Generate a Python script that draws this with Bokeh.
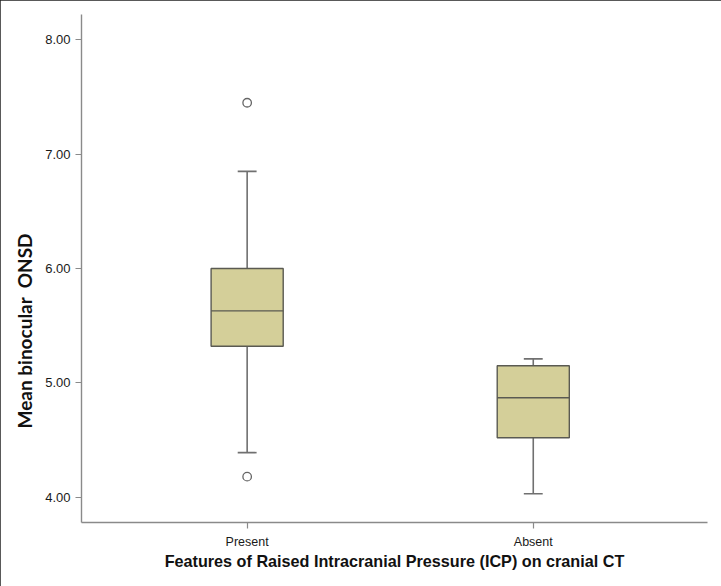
from bokeh.plotting import figure
from bokeh.models import Range1d, FixedTicker, Title, ColumnDataSource
from bokeh.embed import file_html
from bokeh.resources import INLINE

# ---- data ----
categories = ["Present", "Absent"]
lower_whisker = [4.39, 4.03]
q1 = [5.32, 4.52]
median = [5.63, 4.87]
q3 = [6.00, 5.15]
upper_whisker = [6.85, 5.21]
outlier_cat = ["Present", "Present"]
outlier_val = [7.45, 4.18]
y_ticks = [4.0, 5.0, 6.0, 7.0, 8.0]

xpos = [i + 0.5 for i in range(len(categories))]
pos_of = dict(zip(categories, xpos))
box_w = 0.252
cap_w = 0.066

src = ColumnDataSource(dict(
    x=xpos, lw=lower_whisker, q1=q1, med=median, q3=q3, uw=upper_whisker,
    bl=[x - box_w / 2 for x in xpos], br=[x + box_w / 2 for x in xpos],
    cl=[x - cap_w / 2 for x in xpos], cr=[x + cap_w / 2 for x in xpos],
))
out_src = ColumnDataSource(dict(x=[pos_of[c] for c in outlier_cat], y=outlier_val))

p = figure(width=721, height=586, output_backend="svg", toolbar_location=None,
           x_range=Range1d(-0.079, 2.109), y_range=Range1d(3.779, 8.222),
           min_border_left=81, min_border_right=14, min_border_top=14, min_border_bottom=64)
p.outline_line_color = None
p.grid.grid_line_color = None
p.background_fill_color = "white"
p.border_fill_color = "white"
p.styles = {"outline": "1px solid #222222", "outline-offset": "-1px"}

FONT = "Liberation Sans"
WHISK = "#707070"
EDGE = "#5a5a52"

# whiskers
p.segment(x0="x", y0="q3", x1="x", y1="uw", source=src, line_color=WHISK, line_width=1.6)
p.segment(x0="x", y0="q1", x1="x", y1="lw", source=src, line_color=WHISK, line_width=1.6)
p.segment(x0="cl", y0="uw", x1="cr", y1="uw", source=src, line_color=WHISK, line_width=1.6)
p.segment(x0="cl", y0="lw", x1="cr", y1="lw", source=src, line_color=WHISK, line_width=1.6)
# boxes
p.vbar(x="x", width=box_w, bottom="q1", top="q3", source=src,
       fill_color="#d4cf99", line_color=EDGE, line_width=1.4)
p.segment(x0="bl", y0="med", x1="br", y1="med", source=src, line_color=EDGE, line_width=1.4)
# outliers
p.scatter(x="x", y="y", source=out_src, marker="circle", size=8.5,
          fill_color="white", line_color="#666666", line_width=1.3)

# axes
for ax in (p.xaxis[0], p.yaxis[0]):
    ax.axis_line_color = "#8a8a8a"
    ax.axis_line_width = 1.4
    ax.major_tick_line_color = "#8a8a8a"
    ax.major_tick_line_width = 1.2
    ax.major_tick_out = 6
    ax.major_tick_in = 0
    ax.minor_tick_line_color = None
    ax.major_label_text_font = FONT
    ax.major_label_text_color = "#1a1a1a"

p.yaxis.ticker = FixedTicker(ticks=y_ticks)
p.yaxis.major_label_overrides = {t: f"{t:.2f}" for t in y_ticks}
p.yaxis.major_label_text_font_size = "13px"
p.yaxis.major_label_standoff = 5

p.xaxis.ticker = FixedTicker(ticks=xpos)
p.xaxis.major_label_overrides = dict(zip(xpos, categories))
p.xaxis.major_label_text_font_size = "12.5px"
p.xaxis.major_label_standoff = 6

p.xaxis.axis_label = "Features of Raised Intracranial Pressure (ICP) on cranial CT"
p.xaxis.axis_label_text_font = FONT
p.xaxis.axis_label_text_font_style = "bold"
p.xaxis.axis_label_text_font_size = "16.2px"
p.xaxis.axis_label_text_color = "#111111"
p.xaxis.axis_label_standoff = 0

# y title sits below the centre of the axis in the reference
p.add_layout(Title(text="Mean binocular\u00a0 ONSD", align="left", offset=94, standoff=14,
                   text_font="Lato", text_font_style="bold", text_font_size="19px",
                   text_color="#111111"), "left")

open("out.html", "w").write(file_html(p, INLINE))
